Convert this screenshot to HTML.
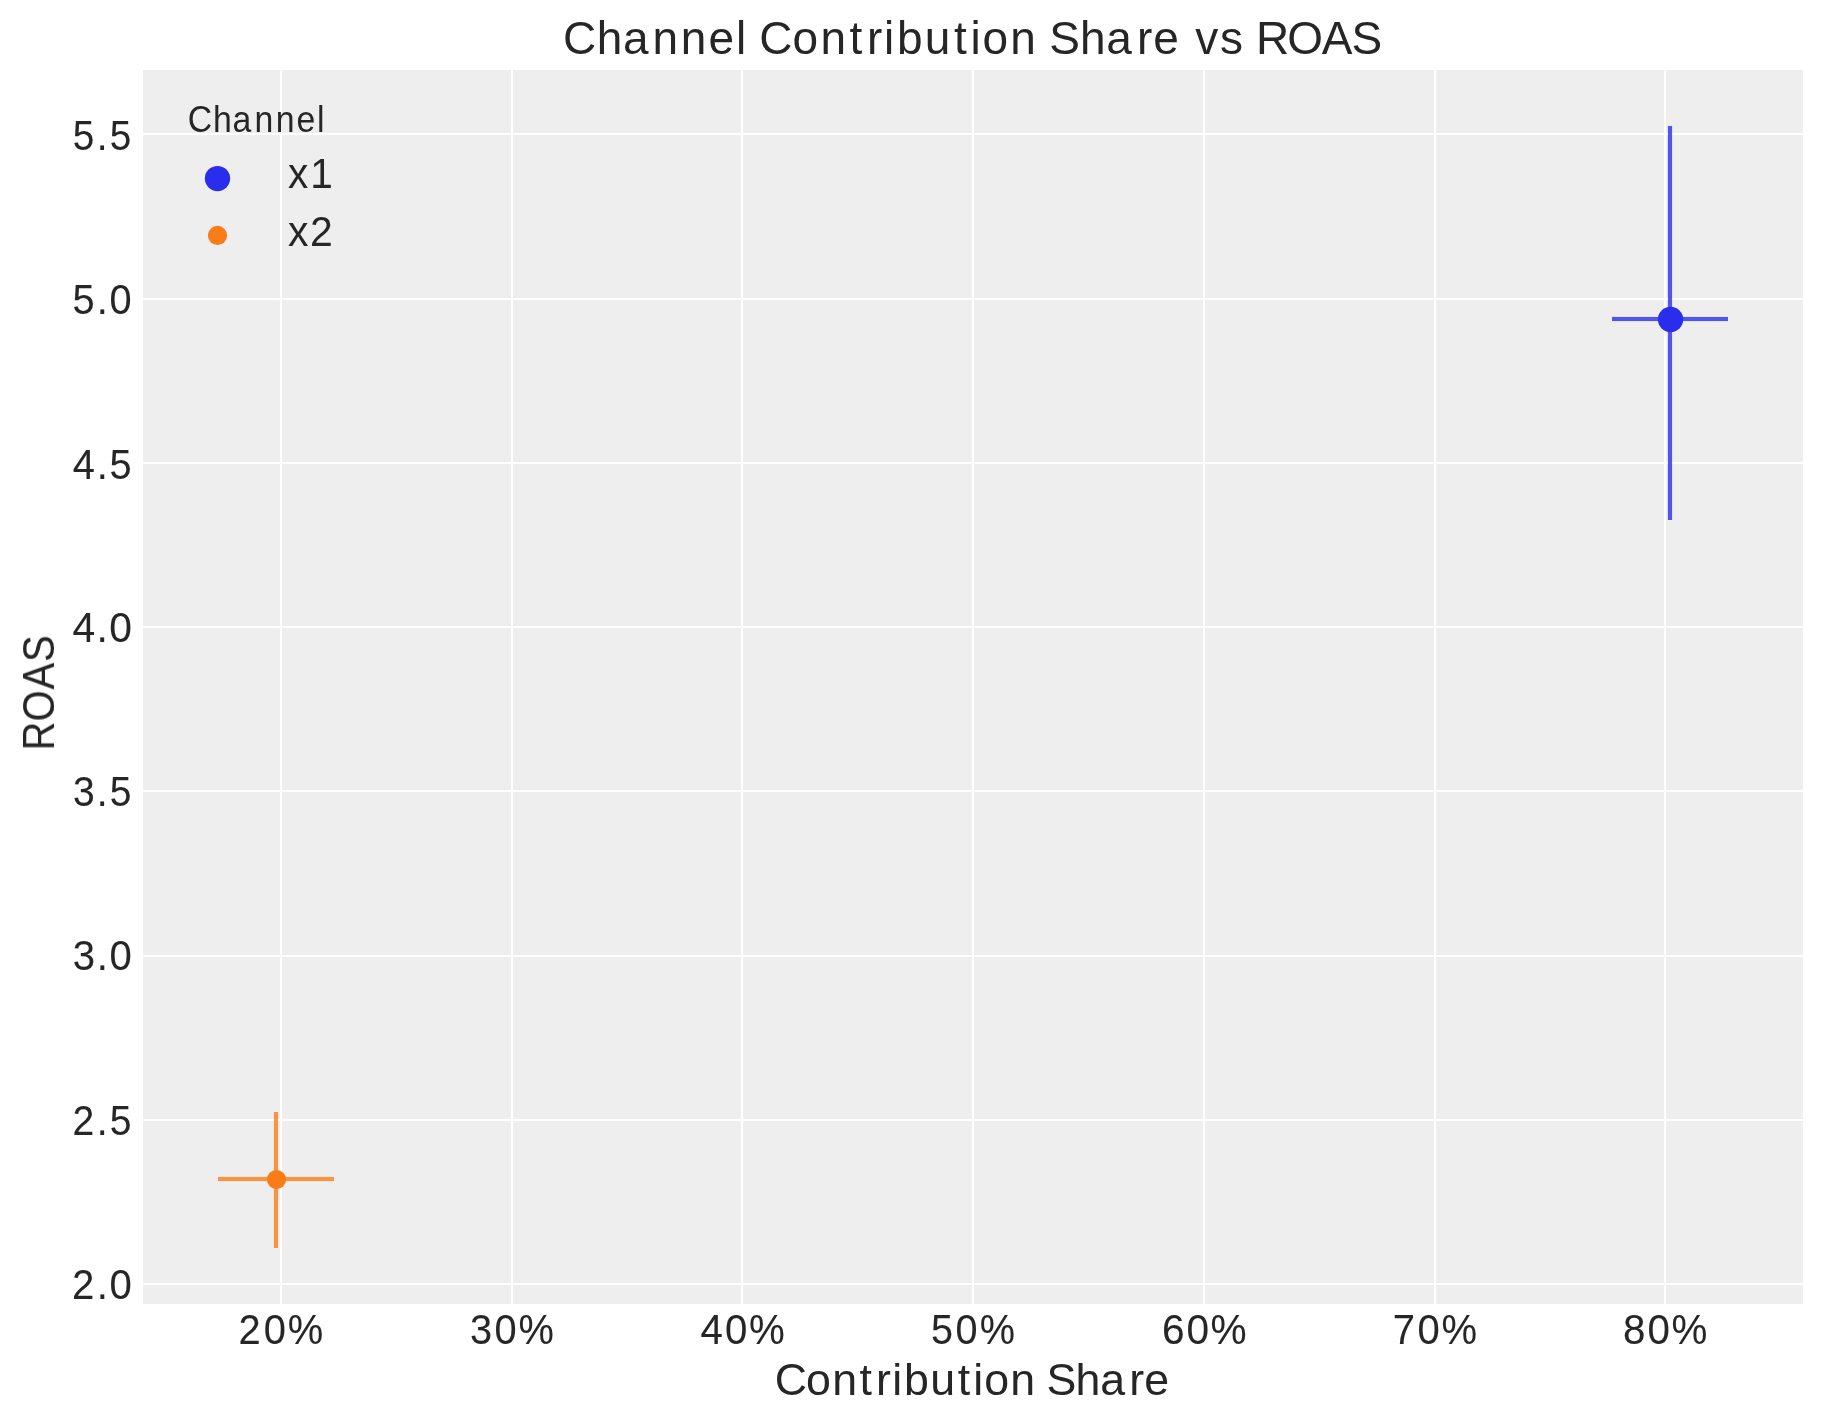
<!DOCTYPE html>
<html lang="en">
<head>
<meta charset="utf-8">
<title>Channel Contribution Share vs ROAS</title>
<style>
html,body{margin:0;padding:0;background:#ffffff;}
body{width:1823px;height:1423px;overflow:hidden;font-family:"Liberation Sans",sans-serif;}
svg{display:block;}
svg text{font-family:"Liberation Sans",sans-serif;fill:#262626;font-kerning:none;}
.labels{filter:grayscale(1);}
.tk{stroke:#262626;stroke-width:0.08;}
.grid line{stroke:#ffffff;stroke-width:2.2;}
</style>
</head>
<body>
<svg width="1823" height="1423" viewBox="0 0 1823 1423">
 <rect x="0" y="0" width="1823" height="1423" fill="#ffffff"/>
 <!-- axes background -->
 <rect x="143" y="70" width="1660" height="1234" fill="#eeeeee"/>
 <!-- grid -->
 <g class="grid">
  <line x1="143" x2="1803" y1="134" y2="134"/>
  <line x1="143" x2="1803" y1="299" y2="299"/>
  <line x1="143" x2="1803" y1="463" y2="463"/>
  <line x1="143" x2="1803" y1="627" y2="627"/>
  <line x1="143" x2="1803" y1="791" y2="791"/>
  <line x1="143" x2="1803" y1="956" y2="956"/>
  <line x1="143" x2="1803" y1="1120" y2="1120"/>
  <line x1="143" x2="1803" y1="1284" y2="1284"/>
  <line x1="281" x2="281" y1="70" y2="1304"/>
  <line x1="512" x2="512" y1="70" y2="1304"/>
  <line x1="742" x2="742" y1="70" y2="1304"/>
  <line x1="973" x2="973" y1="70" y2="1304"/>
  <line x1="1204" x2="1204" y1="70" y2="1304"/>
  <line x1="1435" x2="1435" y1="70" y2="1304"/>
  <line x1="1665" x2="1665" y1="70" y2="1304"/>
 </g>
 <!-- error bars -->
 <g stroke-width="4.17" stroke-opacity="0.8" fill="none">
  <line x1="1670" x2="1670" y1="126" y2="520" stroke="#2a2eec"/>
  <line x1="1612" x2="1728" y1="319" y2="319" stroke="#2a2eec"/>
  <line x1="276" x2="276" y1="1112" y2="1248" stroke="#fa7c17"/>
  <line x1="218" x2="334" y1="1179" y2="1179" stroke="#fa7c17"/>
 </g>
 <!-- anti-alias fringe rows of the horizontal error bars -->
 <g fill-opacity="0.07">
  <rect x="1612" y="316" width="116" height="1" fill="#2a2eec"/>
  <rect x="1612" y="321" width="116" height="1" fill="#2a2eec"/>
  <rect x="218" y="1176" width="116" height="1" fill="#fa7c17"/>
  <rect x="218" y="1181" width="116" height="1" fill="#fa7c17"/>
 </g>
 <!-- markers -->
 <circle cx="1670.55" cy="319.45" r="12.65" fill="#2a2eec"/>
 <circle cx="276.5" cy="1179.55" r="9.6" fill="#fa7c17"/>
 <!-- legend handles -->
 <circle cx="217.5" cy="178.55" r="12.65" fill="#2a2eec"/>
 <circle cx="217.5" cy="235.45" r="9.6" fill="#fa7c17"/>
 <!-- text -->
 <g class="labels">
  <text transform="translate(0 54) scale(0.9784 1)" x="575.47 609.98 636.64 666.82 695.69 724.12 752.21 759.48 776.14 810.12 838.54 868.22 886.21 903.62 916.81 945.28 975.15 991.84 1004.23 1032.66 1056.19 1072.43 1103.92 1130.79 1162.13 1178.61 1203.26 1221.67 1247 1267.95 1283.76 1315.56 1350.93 1381.31" font-size="47.0">Channel Contribution Share vs ROAS</text>
  <text transform="translate(0 1395) scale(1.0253 1)" x="755.64 786.19 811.65 838.42 854.46 870.17 881.71 907.21 934.16 949.15 959.99 985.44 1006.93 1020.72 1049.06 1073.13 1101.42 1116.08" font-size="43.6">Contribution Share</text>
  <text transform="translate(0 132) scale(0.9311 1)" x="201.77 228.82 249.77 273.45 296.12 318.44 340.4" font-size="36.3">Channel</text>
  <text transform="translate(0 188) scale(0.9744 1)" x="295.65 318.43" font-size="41.6">x1</text>
  <text transform="translate(0 246) scale(0.9842 1)" x="292.67 315.08" font-size="41.6">x2</text>
  <text class="tk" transform="translate(0 150.2) scale(0.9034 1)" x="80.67 107.2 121.48" font-size="42.9">5.5</text>
  <text class="tk" transform="translate(0 314.2) scale(0.9277 1)" x="78.24 104.23 118.15" font-size="42.9">5.0</text>
  <text class="tk" transform="translate(0 479.2) scale(0.9283 1)" x="78.34 104.16 117.9" font-size="42.9">4.5</text>
  <text class="tk" transform="translate(0 642.2) scale(0.9519 1)" x="76.11 101.43 114.84" font-size="42.9">4.0</text>
  <text class="tk" transform="translate(0 806.2) scale(0.9105 1)" x="80.16 106.31 120.43" font-size="42.9">3.5</text>
  <text class="tk" transform="translate(0 970.2) scale(0.9349 1)" x="77.77 103.39 117.15" font-size="42.9">3.0</text>
  <text class="tk" transform="translate(0 1135.2) scale(0.912 1)" x="79.4 106.13 120.22" font-size="42.9">2.5</text>
  <text class="tk" transform="translate(0 1299.2) scale(0.9368 1)" x="76.99 103.17 116.89" font-size="42.9">2.0</text>
  <text class="tk" transform="translate(0 1344.2) scale(0.9289 1)" x="256.83 283.83 309.69" font-size="42.9">20%</text>
  <text class="tk" transform="translate(0 1344.2) scale(0.9278 1)" x="506.64 533.07 558.96" font-size="42.9">30%</text>
  <text class="tk" transform="translate(0 1344.2) scale(0.9381 1)" x="746.62 772.81 798.35" font-size="42.9">40%</text>
  <text class="tk" transform="translate(0 1344.2) scale(0.9236 1)" x="1007.9 1034.66 1060.71" font-size="42.9">50%</text>
  <text class="tk" transform="translate(0 1344.2) scale(0.9466 1)" x="1227.54 1253.5 1278.74" font-size="42.9">60%</text>
  <text class="tk" transform="translate(0 1344.2) scale(0.9324 1)" x="1493.74 1520.18 1545.91" font-size="42.9">70%</text>
  <text class="tk" transform="translate(0 1344.2) scale(0.9406 1)" x="1725.5 1751.62 1777.07" font-size="42.9">80%</text>
  <text class="tk" transform="translate(54 747) rotate(-90) scale(0.9163 1)" x="-3.67 27.85 62.73 92.82" font-size="43.6">ROAS</text>
 </g>
</svg>
</body>
</html>
